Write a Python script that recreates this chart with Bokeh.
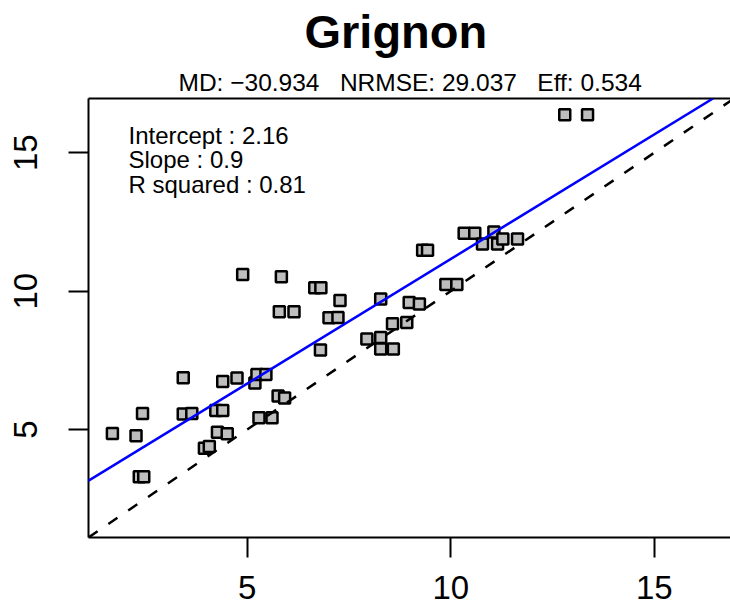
from bokeh.plotting import figure
from bokeh.models import Range1d, LinearAxis, FixedTicker, Label, Slope, ColumnDataSource, Title
from bokeh.embed import file_html
from bokeh.resources import INLINE

site = "Grignon"
obs = [1.69, 2.27, 2.43, 2.35, 2.46, 3.43, 3.43, 3.64, 3.95, 4.07, 4.27, 4.51, 4.23, 4.40, 4.40,
       4.75, 5.19, 5.24, 5.46, 5.29, 5.61, 5.76, 5.92, 4.89, 5.84, 5.79, 6.15, 6.66, 6.81, 6.80,
       7.01, 7.23, 7.28, 7.94, 8.28, 8.28, 8.59, 8.28, 8.57, 8.92, 8.98, 9.23, 9.31, 9.43, 9.88,
       10.15, 10.33, 10.59, 11.06, 10.78, 11.15, 11.28, 11.64, 12.80, 13.36]
sim = [4.86, 4.78, 5.58, 3.30, 3.30, 6.87, 5.56, 5.58, 4.33, 4.39, 4.90, 4.85, 5.69, 5.69, 6.74,
       6.86, 6.68, 6.99, 6.99, 5.43, 5.43, 6.21, 6.14, 10.60, 10.52, 9.26, 9.26, 10.12, 10.12, 7.87,
       9.04, 9.05, 9.66, 8.27, 8.33, 7.91, 7.91, 9.72, 8.82, 8.87, 9.59, 9.54, 11.48, 11.48, 10.24,
       10.24, 12.09, 12.09, 12.14, 11.70, 11.70, 11.88, 11.88, 16.37, 16.37]
intercept = 2.16
slope = 0.9
r_squared = 0.81
md = "\u221230.934"
nrmse = "29.037"
eff = "0.534"
x_ticks = [5, 10, 15]
y_ticks = [5, 10, 15]

FONT = "Liberation Sans"
GAP = "\u00a0\u00a0\u00a0"

W, H = 730, 606
LEFT, TOP, BOTTOM = 88, 97, 69
FW, FH = W - LEFT, H - TOP - BOTTOM

lo = min(min(obs), min(sim))
hi = max(max(obs), max(sim))
pad = 0.04 * (hi - lo)
lim_lo, lim_hi = lo - pad, hi + pad
# the frame is cut by the window on the right: only 642 of 645.5 px visible
x_end = lim_lo + (lim_hi - lim_lo) * FW / 645.5


def xdata(px):
    return lim_lo + (px - LEFT) * (x_end - lim_lo) / FW


def ydata(py):
    return lim_lo + (H - BOTTOM - py) * (lim_hi - lim_lo) / FH


p = figure(width=W, height=H, title=None,
           x_range=Range1d(lim_lo, x_end), y_range=Range1d(lim_lo, lim_hi),
           output_backend="svg", toolbar_location=None,
           min_border_left=LEFT, min_border_right=0, min_border_top=TOP, min_border_bottom=BOTTOM)
p.outline_line_color = None
p.grid.visible = False
p.background_fill_color = "white"
p.border_fill_color = "white"

for ax in (p.xaxis[0], p.yaxis[0]):
    ax.axis_line_width = 2
    ax.axis_line_color = "black"
    ax.major_tick_line_width = 2
    ax.major_tick_out = 20
    ax.major_tick_in = 0
    ax.minor_tick_line_color = None
    ax.major_label_text_font = FONT
    ax.major_label_text_font_size = "33px"
    ax.major_label_text_color = "black"
p.xaxis[0].ticker = FixedTicker(ticks=x_ticks)
p.yaxis[0].ticker = FixedTicker(ticks=y_ticks)
p.xaxis[0].major_label_standoff = 18
p.yaxis[0].major_label_standoff = 31
p.yaxis[0].major_label_orientation = "vertical"

top_axis = LinearAxis(ticker=FixedTicker(ticks=[]), axis_line_width=2, axis_line_color="black",
                      major_tick_line_color=None, minor_tick_line_color=None,
                      major_label_text_font_size="0px", major_label_standoff=0)
p.add_layout(top_axis, "above")

# statistics line (nearest the frame), then the main title above it
p.add_layout(Title(text=f"MD: {md}{GAP}NRMSE: {nrmse}{GAP}Eff: {eff}", align="left",
                   vertical_align="bottom", text_font=FONT, text_font_size="24.5px",
                   text_font_style="normal", text_color="black", standoff=6, offset=90), "above")
p.add_layout(Title(text=site, align="left", vertical_align="top", text_font=FONT,
                   text_font_size="47px", text_font_style="bold", text_color="black",
                   standoff=8, offset=216), "above")

src = ColumnDataSource(data=dict(obs=obs, sim=sim))
p.scatter("obs", "sim", source=src, marker="square", size=11, fill_color="#BEBEBE",
          line_color="black", line_width=2.5)

p.add_layout(Slope(gradient=1, y_intercept=0, line_color="black", line_width=2.5, line_dash="11 13"))
p.add_layout(Slope(gradient=slope, y_intercept=intercept, line_color="#0000FF", line_width=2.5))

stats = [f"Intercept : {intercept}", f"Slope : {slope}", f"R squared : {r_squared}"]
for i, s in enumerate(stats):
    p.add_layout(Label(x=xdata(128), y=ydata(143 + i * 24.5) + 0.32, text=s, text_font=FONT,
                       text_font_size="24px", text_color="black", text_baseline="alphabetic"))

open("out.html", "w").write(file_html(p, INLINE))
